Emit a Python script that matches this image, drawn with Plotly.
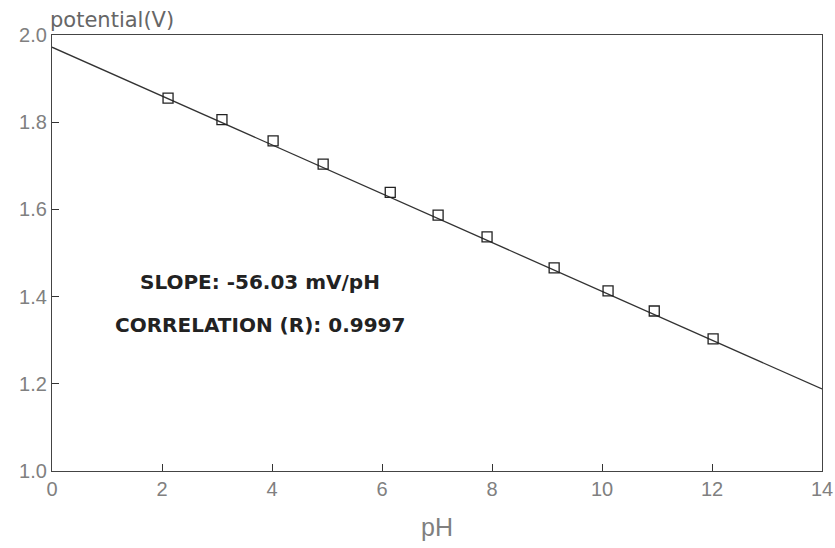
import plotly.graph_objects as go

ph = [2.11, 3.09, 4.02, 4.93, 6.15, 7.02, 7.91, 9.13, 10.11, 10.95, 12.02]
potential = [1.855, 1.806, 1.757, 1.704, 1.639, 1.587, 1.537, 1.466, 1.413, 1.367, 1.303]
fit_x = [0, 14]
fit_y = [1.972, 1.188]
x_ticks = [0, 2, 4, 6, 8, 10, 12, 14]
y_ticks = [1.0, 1.2, 1.4, 1.6, 1.8, 2.0]
y_labels = ["1.0", "1.2", "1.4", "1.6", "1.8", "2.0"]
notes = ["SLOPE: -56.03 mV/pH", "CORRELATION (R): 0.9997"]

SANS = "Liberation Sans, Arial, sans-serif"
WIDE = "DejaVu Sans, Liberation Sans, sans-serif"

fig = go.Figure()
fig.add_trace(go.Scatter(x=fit_x, y=fit_y, mode="lines",
                         line=dict(color="#333333", width=1.3), showlegend=False))
fig.add_trace(go.Scatter(x=ph, y=potential, mode="markers",
                         marker=dict(symbol="square-open", size=10, color="#222222",
                                     line=dict(width=1.3, color="#222222")),
                         showlegend=False))

tickfont = dict(family=SANS, size=20, color="#808080")
fig.update_xaxes(range=[0, 14], tickvals=x_ticks, ticks="inside", ticklen=7,
                 tickcolor="#333333", showline=True, linecolor="#444444", linewidth=1.2,
                 mirror=True, showgrid=False, zeroline=False, tickfont=tickfont,
                 automargin=False,
                 title=dict(text="pH", font=dict(family=SANS, size=25, color="#808080"),
                            standoff=19))
fig.update_yaxes(range=[1.0, 2.0], tickvals=y_ticks, ticktext=y_labels, ticks="inside",
                 ticklen=7, tickcolor="#333333", showline=True, linecolor="#444444",
                 linewidth=1.2, mirror=True, showgrid=False, zeroline=False,
                 automargin=False, tickfont=tickfont)

fig.add_annotation(x=0, y=1.0, xref="paper", yref="paper", text="potential(V)",
                   showarrow=False, xanchor="left", yanchor="bottom", yshift=1, xshift=-4,
                   font=dict(family=WIDE, size=21, color="#666666"))
fig.add_annotation(x=3.78, y=1.433, text="<b>" + notes[0] + "</b>", showarrow=False,
                   font=dict(family=WIDE, size=20, color="#222222"))
fig.add_annotation(x=3.78, y=1.335, text="<b>" + notes[1] + "</b>", showarrow=False,
                   font=dict(family=WIDE, size=20, color="#222222"))

fig.update_layout(width=835, height=548, margin=dict(l=52, r=13, t=35, b=77),
                  paper_bgcolor="white", plot_bgcolor="white")
fig.write_html("out.html", config={"displayModeBar": False},
               post_script="document.body.style.margin='0';document.body.style.overflow='hidden';")
